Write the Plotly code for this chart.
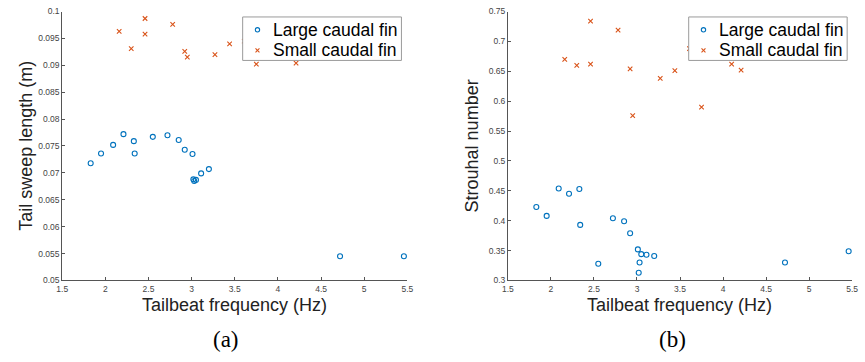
import plotly.graph_objects as go

# ---- data ----
freq_large = [1.83, 1.95, 2.09, 2.21, 2.33, 2.34, 2.55, 2.72, 2.85, 2.92, 3.01, 3.02, 3.03, 3.05, 3.11, 3.20, 4.72, 5.46]
sweep_large = [0.0718, 0.0736, 0.0752, 0.0772, 0.0759, 0.0736, 0.0767, 0.0770, 0.0761, 0.0743, 0.0735, 0.0688, 0.0685, 0.0687, 0.0699, 0.0707, 0.0545, 0.0545]
st_large = [0.423, 0.408, 0.454, 0.445, 0.453, 0.393, 0.328, 0.404, 0.399, 0.379, 0.352, 0.313, 0.330, 0.344, 0.343, 0.341, 0.330, 0.349]

freq_small = [2.16, 2.30, 2.46, 2.46, 2.78, 2.92, 2.95, 3.27, 3.44, 3.61, 3.75, 4.10, 4.21]
sweep_small = [0.0963, 0.0931, 0.0987, 0.0958, 0.0976, 0.0926, 0.0915, 0.0920, 0.0940, 0.0945, 0.0902, 0.0935, 0.0904]
st_small = [0.670, 0.660, 0.734, 0.662, 0.719, 0.654, 0.576, 0.638, 0.651, 0.688, 0.590, 0.662, 0.652]

x_ticks = [1.5, 2, 2.5, 3, 3.5, 4, 4.5, 5, 5.5]
x_ticklabels = ["1.5", "2", "2.5", "3", "3.5", "4", "4.5", "5", "5.5"]
ya_ticks = [0.05, 0.055, 0.06, 0.065, 0.07, 0.075, 0.08, 0.085, 0.09, 0.095, 0.1]
ya_ticklabels = ["0.05", "0.055", "0.06", "0.065", "0.07", "0.075", "0.08", "0.085", "0.09", "0.095", "0.1"]
yb_ticks = [0.3, 0.35, 0.4, 0.45, 0.5, 0.55, 0.6, 0.65, 0.7, 0.75]
yb_ticklabels = ["0.3", "0.35", "0.4", "0.45", "0.5", "0.55", "0.6", "0.65", "0.7", "0.75"]

label_large = "Large caudal fin"
label_small = "Small caudal fin"
x_title = "Tailbeat frequency (Hz)"
ya_title = "Tail sweep length (m)"
yb_title = "Strouhal number"
panel_labels = ["(a)", "(b)"]

BLUE = "#0072BD"
ORANGE = "#D95319"
W, H = 865, 362


def px(x):
    return x / W


def py(y):
    return 1 - y / H


fig = go.Figure()

circ = dict(symbol="circle-open", size=5, color=BLUE, line=dict(width=1.1, color=BLUE))
cross = dict(symbol="x-thin-open", size=4.5, color=ORANGE, line=dict(width=1.1, color=ORANGE))

fig.add_trace(go.Scatter(x=freq_large, y=sweep_large, mode="markers", marker=circ,
                         name=label_large, xaxis="x", yaxis="y", showlegend=False))
fig.add_trace(go.Scatter(x=freq_small, y=sweep_small, mode="markers", marker=cross,
                         name=label_small, xaxis="x", yaxis="y", showlegend=False))
fig.add_trace(go.Scatter(x=freq_large, y=st_large, mode="markers", marker=circ,
                         name=label_large, xaxis="x2", yaxis="y2", showlegend=False))
fig.add_trace(go.Scatter(x=freq_small, y=st_small, mode="markers", marker=cross,
                         name=label_small, xaxis="x2", yaxis="y2", showlegend=False))

ydom = [py(283.3), py(6.7)]
tickfont = dict(family="Liberation Sans, Arial", size=8.5, color="#444444")
axcommon = dict(showgrid=False, zeroline=False, showline=True, linecolor="#555555", linewidth=1,
                ticks="inside", ticklen=3, tickcolor="#555555", tickfont=tickfont, mirror=False)

fig.update_layout(
    width=W, height=H,
    margin=dict(l=0, r=0, t=0, b=0),
    paper_bgcolor="white", plot_bgcolor="white",
    showlegend=False,
    xaxis=dict(domain=[px(57), px(407)], range=[1.5, 5.5], tickvals=x_ticks, ticktext=x_ticklabels,
               anchor="y", **axcommon),
    yaxis=dict(domain=ydom, range=[0.05, 0.1], tickvals=ya_ticks, ticktext=ya_ticklabels,
               anchor="x", **axcommon),
    xaxis2=dict(domain=[px(509), px(858)], range=[1.5, 5.5], tickvals=x_ticks, ticktext=x_ticklabels,
                anchor="y2", **axcommon),
    yaxis2=dict(domain=ydom, range=[0.3, 0.75], tickvals=yb_ticks, ticktext=yb_ticklabels,
                anchor="x2", **axcommon),
)

title_font = dict(family="Liberation Sans, Arial", size=18, color="#222222")
serif_font = dict(family="Liberation Serif, Times New Roman", size=23, color="black")
legend_font = dict(family="Liberation Sans, Arial", size=17.5, color="black")

ann = [
    dict(x=px(232), y=py(309), text=x_title, font=title_font, xanchor="center"),
    dict(x=px(683), y=py(309), text=x_title, font=title_font, xanchor="center"),
    dict(x=px(20), y=py(145), text=ya_title, font=title_font, textangle=-90, xanchor="center"),
    dict(x=px(473), y=py(145), text=yb_title, font=title_font, textangle=-90, xanchor="center"),
    dict(x=px(223), y=py(344), text=panel_labels[0], font=serif_font, xanchor="center"),
    dict(x=px(676), y=py(344), text=panel_labels[1], font=serif_font, xanchor="center"),
]

shapes = []
# legend boxes (decorations, in paper coordinates)
for (bx0, bx1) in [(240, 401), (692.3, 853)]:
    shapes.append(dict(type="rect", xref="paper", yref="paper", x0=px(bx0), x1=px(bx1),
                       y0=py(57), y1=py(12.3), fillcolor="white", line=dict(color="#9a9a9a", width=1),
                       layer="above"))
    sx = bx0 + 15
    r1 = 25.5
    r2 = 46.7
    # circle glyph
    shapes.append(dict(type="circle", xref="paper", yref="paper", x0=px(sx - 2.2), x1=px(sx + 2.2),
                       y0=py(r1 + 2.2), y1=py(r1 - 2.2), line=dict(color=BLUE, width=1.1), layer="above"))
    # x glyph
    d = 2.0
    shapes.append(dict(type="line", xref="paper", yref="paper", x0=px(sx - d), x1=px(sx + d),
                       y0=py(r2 - d), y1=py(r2 + d), line=dict(color=ORANGE, width=1.1), layer="above"))
    shapes.append(dict(type="line", xref="paper", yref="paper", x0=px(sx - d), x1=px(sx + d),
                       y0=py(r2 + d), y1=py(r2 - d), line=dict(color=ORANGE, width=1.1), layer="above"))
    ann.append(dict(x=px(bx0 + 29), y=py(r1), text=label_large, font=legend_font, xanchor="left"))
    ann.append(dict(x=px(bx0 + 29), y=py(r2), text=label_small, font=legend_font, xanchor="left"))

for a in ann:
    a.update(xref="paper", yref="paper", showarrow=False, yanchor="middle")
fig.update_layout(annotations=ann, shapes=shapes)

fig.write_html("out.html", config={"displayModeBar": False},
               post_script="document.body.style.margin='0';")
